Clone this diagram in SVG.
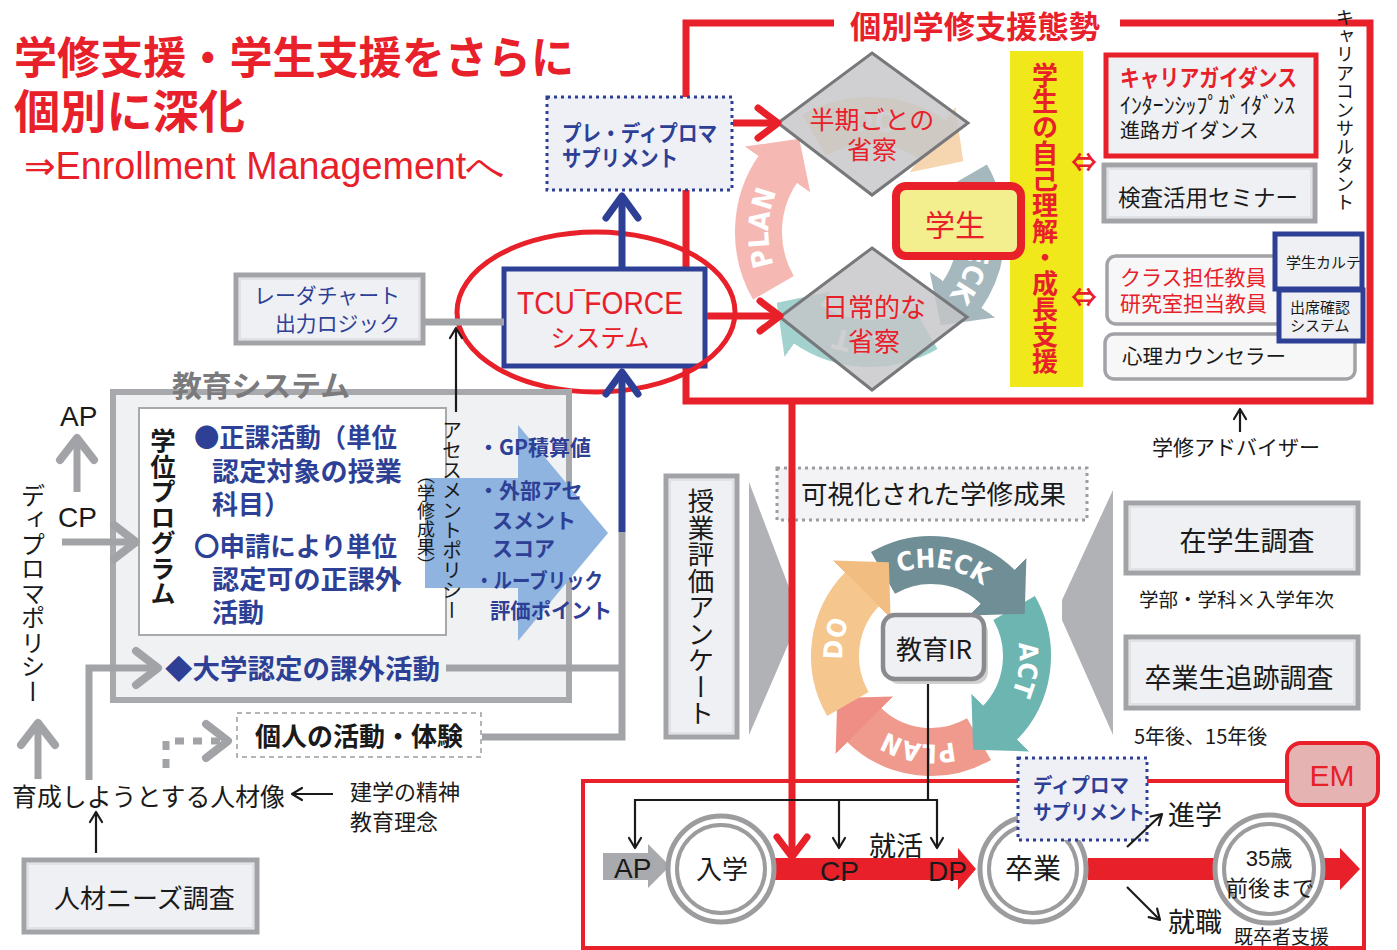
<svg xmlns="http://www.w3.org/2000/svg" width="1397" height="950" viewBox="0 0 1397 950">
<defs>
<style>
text{font-family:"Noto Sans CJK JP","Noto Sans",sans-serif;fill:#1a1a1a}
.lat{font-family:"Liberation Sans","DejaVu Sans",sans-serif}
.b{font-weight:700}
.red{fill:#e8202a}
.blue{fill:#2e3f96}
.gry{fill:#7b7b7e}
.vt{writing-mode:vertical-rl}
.mid{text-anchor:middle}
.panel{fill:#eff0f3;stroke:#a2a3a7;stroke-width:5}
.inset{fill:none;stroke:#dcdde0;stroke-width:1.5}
.round{fill:#f7f7f8;stroke:#a2a3a7;stroke-width:3.5}
.navy{fill:#eff0f3;stroke:#2e3f96;stroke-width:5}
.dotblue{fill:#eef0f5;stroke:#2e3f96;stroke-width:3;stroke-dasharray:3 4}
.gline{fill:none;stroke:#a2a3a7;stroke-width:7}
.kline{fill:none;stroke:#1a1a1a;stroke-width:2.2}
.rline{fill:none;stroke:#e8202a;stroke-width:7}
.bline{fill:none;stroke:#2e3f96;stroke-width:7}
.ring{fill:none}
.cyc{font-family:"DejaVu Sans Condensed","DejaVu Sans",sans-serif;font-weight:700;fill:#fff}
.diam{fill:#c6c6c8;fill-opacity:0.82;stroke:#77787b;stroke-width:3}
.dual{fill:#fff;stroke:#9c9c9f}
</style>
<marker id="mRed" markerUnits="userSpaceOnUse" markerWidth="40" markerHeight="40" viewBox="0 0 40 40" refX="34" refY="20" orient="auto" overflow="visible">
<path d="M14,5 L34,20 L14,35" fill="none" stroke="#e8202a" stroke-width="7" stroke-linecap="round" stroke-linejoin="round"/>
</marker>
<marker id="mBlue" markerUnits="userSpaceOnUse" markerWidth="40" markerHeight="40" viewBox="0 0 40 40" refX="34" refY="20" orient="auto" overflow="visible">
<path d="M12,4 L34,20 L12,36" fill="none" stroke="#2e3f96" stroke-width="7" stroke-linecap="round" stroke-linejoin="round"/>
</marker>
<marker id="mGray" markerUnits="userSpaceOnUse" markerWidth="40" markerHeight="40" viewBox="0 0 40 40" refX="34" refY="20" orient="auto" overflow="visible">
<path d="M12,3 L34,20 L12,37" fill="none" stroke="#a2a3a7" stroke-width="8" stroke-linecap="round" stroke-linejoin="round"/>
</marker>
<marker id="mBlk" markerUnits="userSpaceOnUse" markerWidth="16" markerHeight="16" viewBox="0 0 16 16" refX="14" refY="8" orient="auto" overflow="visible">
<path d="M4,2 L14,8 L4,14" fill="none" stroke="#1a1a1a" stroke-width="2.2" stroke-linecap="round" stroke-linejoin="round"/>
</marker>
<marker id="hSal" markerUnits="strokeWidth" markerWidth="0.8" markerHeight="1.7" viewBox="0 0 10 10" preserveAspectRatio="none" refX="0.5" refY="5" orient="auto"><path d="M0,0 L10,5 L0,10z" fill="#ef8e84"/></marker>
<marker id="hTan" markerUnits="strokeWidth" markerWidth="0.8" markerHeight="1.7" viewBox="0 0 10 10" preserveAspectRatio="none" refX="0.5" refY="5" orient="auto"><path d="M0,0 L10,5 L0,10z" fill="#f2bd80"/></marker>
<marker id="hSla" markerUnits="strokeWidth" markerWidth="0.8" markerHeight="1.7" viewBox="0 0 10 10" preserveAspectRatio="none" refX="0.5" refY="5" orient="auto"><path d="M0,0 L10,5 L0,10z" fill="#6f8e96"/></marker>
<marker id="hTea" markerUnits="strokeWidth" markerWidth="0.8" markerHeight="1.7" viewBox="0 0 10 10" preserveAspectRatio="none" refX="0.5" refY="5" orient="auto"><path d="M0,0 L10,5 L0,10z" fill="#6cb5b1"/></marker>
<path id="pU" d="M798.2,303.8 A101.5,101.5 0 1 1 941.8,160.2 A101.5,101.5 0 1 1 798.2,303.8"/>
<path id="pL" d="M869.5,717.5 A87,87 0 1 1 992.5,594.5 A87,87 0 1 1 869.5,717.5"/>
</defs>

<rect width="1397" height="950" fill="#ffffff"/>

<!-- headline -->
<g id="headline">
<text class="red b" x="14" y="74" font-size="44" textLength="560" lengthAdjust="spacingAndGlyphs">学修支援・学生支援をさらに</text>
<text class="red b" x="14" y="128" font-size="46" textLength="231" lengthAdjust="spacingAndGlyphs">個別に深化</text>
<text class="red lat" x="24" y="179" font-size="38" textLength="481" lengthAdjust="spacingAndGlyphs">⇒Enrollment Managementへ</text>
</g>

<!-- individual study support frame -->
<g id="support-frame">
<path d="M834,23 H686 V401 H1370 V23 H1120" fill="none" stroke="#e8202a" stroke-width="7"/>
<text class="red b" x="850" y="38" font-size="31" textLength="250" lengthAdjust="spacingAndGlyphs">個別学修支援態勢</text>
<text class="vt" x="1345" y="8" font-size="18.5">キャリアコンサルタント</text>
</g>

<!-- PDCA ring inside the frame -->
<g id="cycle-upper" opacity="0.62">
<path class="ring" stroke="#ef8e84" stroke-width="47" marker-end="url(#hSal)" d="M773.4,287.8 A111.5,111.5 0 0 1 778.7,168.0"/>
<path class="ring" stroke="#f2bd80" stroke-width="47" marker-end="url(#hTan)" d="M814.3,135.4 A111.5,111.5 0 0 1 934.0,140.7"/>
<path class="ring" stroke="#6f8e96" stroke-width="47" marker-end="url(#hSla)" d="M966.6,176.3 A111.5,111.5 0 0 1 961.3,296.0"/>
<path class="ring" stroke="#6cb5b1" stroke-width="47" marker-end="url(#hTea)" d="M925.75,328.6 A111.5,111.5 0 0 1 806.0,323.3"/>
<text class="cyc" font-size="28" text-anchor="middle"><textPath href="#pU" startOffset="13.1%">PLAN</textPath></text>
<text class="cyc" font-size="28" text-anchor="middle"><textPath href="#pU" startOffset="38.1%">DO</textPath></text>
<text class="cyc" font-size="28" text-anchor="middle"><textPath href="#pU" startOffset="65.8%">CHECK</textPath></text>
<text class="cyc" font-size="28" text-anchor="middle"><textPath href="#pU" startOffset="88.6%">ACT</textPath></text>
</g>

<g id="reflect-term">
<polygon class="diam" points="872,53 968,123 872,195 778,123"/>
<text class="red mid" x="872" y="129" font-size="25">半期ごとの</text>
<text class="red mid" x="872" y="159" font-size="25">省察</text>
</g>
<g id="reflect-daily">
<polygon class="diam" points="872,248 967,317 872,390 780,317"/>
<text class="red mid" x="874" y="317" font-size="26">日常的な</text>
<text class="red mid" x="874" y="351" font-size="26">省察</text>
</g>
<g id="self-understanding">
<rect x="1010" y="51" width="73" height="336" fill="#f1e81c"/>
<text class="red b vt" x="1045" y="62" font-size="26">学生の自己理解・成長支援</text>
<text class="red b mid" x="1084" y="172" font-size="26">⇔</text>
<text class="red b mid" x="1084" y="307" font-size="26">⇔</text>
</g>
<g id="student">
<rect x="896" y="186" width="125" height="70" rx="10" fill="#f3ee8e" stroke="#e8202a" stroke-width="8"/>
<text class="red mid" x="955" y="236" font-size="30">学生</text>
</g>
<g id="career-guidance">
<rect x="1106" y="55" width="210" height="101" fill="#eff0f3" stroke="#e8202a" stroke-width="5"/>
<text class="red b" x="1120" y="86" font-size="23" textLength="177" lengthAdjust="spacingAndGlyphs">キャリアガイダンス</text>
<text x="1120" y="113" font-size="22" textLength="175" lengthAdjust="spacingAndGlyphs">ｲﾝﾀｰﾝｼｯﾌﾟｶﾞｲﾀﾞﾝｽ</text>
<text x="1120" y="138" font-size="20">進路ガイダンス</text>
</g>
<g id="test-seminar">
<rect class="panel" x="1104" y="165" width="211" height="56"/>
<rect class="inset" x="1108" y="169" width="203" height="48"/>
<text x="1118" y="206" font-size="22.5">検査活用セミナー</text>
</g>
<g id="class-teacher">
<rect class="round" x="1107" y="256" width="180" height="68" rx="9"/>
<text class="red" x="1120" y="285" font-size="21">クラス担任教員</text>
<text class="red" x="1120" y="311" font-size="21">研究室担当教員</text>
</g>
<g id="counselor">
<rect class="round" x="1105" y="334" width="250" height="45" rx="9"/>
<text x="1122" y="364" font-size="20.5">心理カウンセラー</text>
</g>
<g id="student-record">
<rect class="navy" x="1275" y="234" width="87" height="55" stroke-width="4.5"/>
<text x="1286" y="268" font-size="15">学生カルテ</text>
</g>
<g id="attendance">
<rect class="navy" x="1279" y="290" width="84" height="51" stroke-width="4.5"/>
<text x="1290" y="313" font-size="15">出席確認</text>
<text x="1290" y="331" font-size="15">システム</text>
</g>
<g id="advisor">
<text x="1152" y="455" font-size="21">学修アドバイザー</text>
</g>

<!-- TCU-FORCE and its neighbours -->
<g id="pre-diploma">
<rect class="dotblue" x="547" y="97" width="185" height="93"/>
<text class="blue b" x="562" y="141" font-size="22" textLength="155" lengthAdjust="spacingAndGlyphs">プレ・ディプロマ</text>
<text class="blue b" x="562" y="166" font-size="22" textLength="116" lengthAdjust="spacingAndGlyphs">サプリメント</text>
</g>
<g id="radar-logic">
<rect class="panel" x="236" y="275" width="187" height="68"/>
<rect class="inset" x="240" y="279" width="179" height="60"/>
<text class="blue" x="254" y="303" font-size="21" textLength="146" lengthAdjust="spacingAndGlyphs">レーダチャート</text>
<text class="blue" x="275" y="331" font-size="21" textLength="125" lengthAdjust="spacingAndGlyphs">出力ロジック</text>
</g>
<g id="tcu-force">
<rect class="navy" x="504" y="269" width="201" height="97" stroke-width="6"/>
<text class="red lat" x="600" y="314" font-size="31" text-anchor="middle" textLength="166" lengthAdjust="spacingAndGlyphs">TCU‾FORCE</text>
<text class="red mid" x="600" y="347" font-size="25">システム</text>
<ellipse cx="596" cy="312" rx="139" ry="80" fill="none" stroke="#e8202a" stroke-width="5"/>
</g>

<!-- education system -->
<g id="education-system">
<rect x="113" y="392" width="456" height="308" fill="#f0f1f3" stroke="#a8a9ad" stroke-width="6"/>
<text class="gry b" x="172" y="397" font-size="29" textLength="178" lengthAdjust="spacingAndGlyphs">教育システム</text>
<rect x="139" y="408" width="307" height="227" fill="#ffffff" stroke="#a8a9ad" stroke-width="2"/>
<text class="b vt" x="163" y="428" font-size="25.5">学位プログラム</text>
<text class="blue b" x="194" y="447" font-size="26" textLength="203" lengthAdjust="spacingAndGlyphs">●正課活動（単位</text>
<text class="blue b" x="212" y="481" font-size="26" textLength="190" lengthAdjust="spacingAndGlyphs">認定対象の授業</text>
<text class="blue b" x="212" y="514" font-size="26">科目）</text>
<text class="blue b" x="194" y="556" font-size="26" textLength="203" lengthAdjust="spacingAndGlyphs">〇申請により単位</text>
<text class="blue b" x="212" y="589" font-size="26" textLength="190" lengthAdjust="spacingAndGlyphs">認定可の正課外</text>
<text class="blue b" x="212" y="622" font-size="26">活動</text>
<polygon points="425,478 518,478 518,425 608,533 518,641 518,588 425,588" fill="#8fb4df"/>
<text class="vt" x="426" y="466" font-size="18">（学修成果）</text>
<text class="vt" x="452" y="420" font-size="20">アセスメントポリシー</text>
<text class="blue b" x="478" y="455" font-size="21" textLength="113" lengthAdjust="spacingAndGlyphs">・GP積算値</text>
<text class="blue b" x="478" y="498" font-size="21">・外部アセ</text>
<text class="blue b" x="492" y="528" font-size="21">スメント</text>
<text class="blue b" x="492" y="556" font-size="21">スコア</text>
<text class="blue b" x="475" y="588" font-size="21" textLength="128" lengthAdjust="spacingAndGlyphs">・ルーブリック</text>
<text class="blue b" x="490" y="618" font-size="21" textLength="122" lengthAdjust="spacingAndGlyphs">評価ポイント</text>
<text class="blue b" x="165" y="679" font-size="27" textLength="275" lengthAdjust="spacingAndGlyphs">◆大学認定の課外活動</text>
</g>

<g id="policies">
<text class="lat" x="60" y="426" font-size="28">AP</text>
<text class="lat" x="58" y="527" font-size="28">CP</text>
<text class="vt" x="33" y="483" font-size="24.5">ディプロマポリシー</text>
</g>
<g id="personal-activity">
<rect x="237" y="713" width="244" height="44" fill="#ffffff" stroke="#9c9da1" stroke-width="1.5" stroke-dasharray="5 4"/>
<text class="b" x="255" y="746" font-size="26">個人の活動・体験</text>
</g>
<g id="human-resource">
<text x="12" y="806" font-size="25" textLength="273" lengthAdjust="spacingAndGlyphs">育成しようとする人材像</text>
<text x="350" y="800" font-size="22">建学の精神</text>
<text x="350" y="830" font-size="22">教育理念</text>
</g>
<g id="needs-survey">
<rect class="panel" x="24" y="860" width="233" height="72"/>
<rect class="inset" x="28" y="864" width="225" height="64"/>
<text x="54" y="908" font-size="26">人材ニーズ調査</text>
</g>

<!-- assessment and IR -->
<g id="class-evaluation">
<rect class="panel" x="666" y="476" width="71" height="261"/>
<rect class="inset" x="670" y="480" width="63" height="253"/>
<text class="vt" x="701" y="488" font-size="26.5">授業評価アンケート</text>
</g>
<g id="funnels">
<polygon points="749,482 790,590 790,640 749,735" fill="#b1b2b6"/>
<polygon points="1113,490 1062,600 1062,620 1113,735" fill="#b1b2b6"/>
</g>
<g id="visible-outcome">
<rect x="777" y="468" width="310" height="52" fill="#f3f3f5" stroke="#9c9da1" stroke-width="3" stroke-dasharray="3 4"/>
<text x="801" y="504" font-size="26.5">可視化された学修成果</text>
</g>
<g id="cycle-lower">
<path class="ring" stroke="#f09a8e" stroke-width="48" marker-end="url(#hSal)" d="M979,739.1 A96,96 0 0 1 863.1,723.9"/>
<path class="ring" stroke="#6cb5b1" stroke-width="48" marker-end="url(#hTea)" d="M1014.1,608 A96,96 0 0 1 998.9,723.9"/>
<path class="ring" stroke="#6f8e96" stroke-width="48" marker-end="url(#hSla)" d="M883,572.9 A96,96 0 0 1 998.9,588.1"/>
<path class="ring" stroke="#f5c78e" stroke-width="48" marker-end="url(#hTan)" d="M847.9,704 A96,96 0 0 1 863.1,588.1"/>
<text class="cyc" font-size="26" text-anchor="middle"><textPath href="#pL" startOffset="15.3%">DO</textPath></text>
<text class="cyc" font-size="26" text-anchor="middle"><textPath href="#pL" startOffset="39.7%">CHECK</textPath></text>
<text class="cyc" font-size="26" text-anchor="middle"><textPath href="#pL" startOffset="64.7%">ACT</textPath></text>
<text class="cyc" font-size="26" text-anchor="middle"><textPath href="#pL" startOffset="89.7%">PLAN</textPath></text>
</g>
<g id="education-ir">
<rect x="887" y="620" width="101" height="64" rx="12" fill="#000" opacity="0.18"/>
<rect x="883" y="615" width="101" height="64" rx="12" fill="#eff0f3" stroke="#8a8b8e" stroke-width="4.5"/>
<text x="934" y="659" font-size="26" text-anchor="middle">教育IR</text>
</g>
<g id="student-survey">
<rect class="panel" x="1126" y="503" width="232" height="70"/>
<rect class="inset" x="1130" y="507" width="224" height="62"/>
<text x="1247" y="551" font-size="27" text-anchor="middle">在学生調査</text>
<text x="1139" y="607" font-size="19.5">学部・学科×入学年次</text>
</g>
<g id="alumni-survey">
<rect class="panel" x="1126" y="637" width="232" height="71"/>
<rect class="inset" x="1130" y="641" width="224" height="63"/>
<text x="1239" y="688" font-size="27" text-anchor="middle">卒業生追跡調査</text>
<text x="1134" y="744" font-size="20">5年後、15年後</text>
</g>

<!-- enrollment management timeline -->
<g id="em-frame">
<rect x="583" y="781" width="781" height="167" fill="none" stroke="#e8202a" stroke-width="4"/>
<rect x="1287" y="743" width="91" height="62" rx="14" fill="#e6b3b3" stroke="#e8202a" stroke-width="4"/>
<text class="red lat" x="1332" y="786" font-size="30" text-anchor="middle">EM</text>
</g>
<g id="timeline">
<polygon points="603,853 648,853 648,844 670,866 648,888 648,880 603,880" fill="#a9aaad"/>
<text class="lat" x="614" y="878" font-size="28">AP</text>
<polygon points="773,858 958,858 958,848 976,869 958,890 958,880 773,880" fill="#e8202a"/>
<polygon points="1088,858 1340,858 1340,848 1360,869 1340,890 1340,880 1088,880" fill="#e8202a"/>
<text class="lat" x="820" y="881" font-size="28">CP</text>
<text class="lat" x="928" y="881" font-size="28">DP</text>
<text x="869" y="856" font-size="27">就活</text>
</g>
<g id="enroll">
<circle class="dual" cx="721" cy="869" r="53" stroke-width="5"/>
<circle class="dual" cx="721" cy="869" r="44" stroke-width="4"/>
<text x="722" y="879" font-size="26" text-anchor="middle">入学</text>
</g>
<g id="graduate">
<circle class="dual" cx="1033" cy="869" r="53" stroke-width="5"/>
<circle class="dual" cx="1033" cy="869" r="44" stroke-width="4"/>
<text x="1033" y="879" font-size="28" text-anchor="middle">卒業</text>
</g>
<g id="age35">
<circle class="dual" cx="1269" cy="869" r="54" stroke-width="5"/>
<circle class="dual" cx="1269" cy="869" r="45" stroke-width="4"/>
<text class="lat" x="1269" y="866" font-size="22" text-anchor="middle"><tspan>35</tspan><tspan font-family="Noto Sans CJK JP">歳</tspan></text>
<text x="1270" y="896" font-size="22" text-anchor="middle">前後まで</text>
</g>
<g id="diploma-supplement">
<rect class="dotblue" x="1018" y="758" width="129" height="82"/>
<text class="blue b" x="1033" y="793" font-size="20" textLength="96" lengthAdjust="spacingAndGlyphs">ディプロマ</text>
<text class="blue b" x="1033" y="820" font-size="20" textLength="112" lengthAdjust="spacingAndGlyphs">サプリメント</text>
</g>
<g id="career-paths">
<text x="1168" y="825" font-size="27">進学</text>
<text x="1168" y="932" font-size="27">就職</text>
<text x="1234" y="944" font-size="19">既卒者支援</text>
</g>

<!-- connectors -->
<g id="connectors">
<line class="rline" x1="733" y1="123" x2="778" y2="123" marker-end="url(#mRed)"/>
<line class="rline" x1="707" y1="316" x2="780" y2="316" marker-end="url(#mRed)"/>
<line class="bline" x1="622" y1="268" x2="622" y2="196" marker-end="url(#mBlue)"/>
<line class="bline" x1="622" y1="532" x2="622" y2="372" marker-end="url(#mBlue)"/>
<path class="gline" d="M446,668 H622 M482,737 H622 V532"/>
<line class="gline" x1="424" y1="322" x2="504" y2="322"/>
<line class="kline" x1="456" y1="412" x2="456" y2="328" marker-end="url(#mBlk)"/>
<line class="kline" x1="1240" y1="432" x2="1240" y2="409" marker-end="url(#mBlk)"/>
<line class="gline" x1="62" y1="542" x2="136" y2="542" marker-end="url(#mGray)"/>
<line class="gline" x1="77" y1="492" x2="77" y2="438" stroke-width="5" marker-end="url(#mGray)"/>
<line class="gline" x1="38" y1="779" x2="38" y2="723" stroke-width="5" marker-end="url(#mGray)"/>
<path class="gline" d="M89,780 V668 H158" marker-end="url(#mGray)"/>
<path class="gline" d="M166,768 V741 H228" stroke-width="9" stroke-dasharray="9 9" marker-end="url(#mGray)"/>
<line class="kline" x1="333" y1="794" x2="292" y2="794" marker-end="url(#mBlk)"/>
<line class="kline" x1="96" y1="853" x2="96" y2="812" marker-end="url(#mBlk)"/>
<line class="rline" x1="792" y1="401" x2="792" y2="857" marker-end="url(#mRed)"/>
<path class="kline" d="M928,684 V800 M635,800 H937"/>
<line class="kline" x1="635" y1="799" x2="635" y2="848" marker-end="url(#mBlk)"/>
<line class="kline" x1="839" y1="799" x2="839" y2="848" marker-end="url(#mBlk)"/>
<line class="kline" x1="937" y1="799" x2="937" y2="848" marker-end="url(#mBlk)"/>
<line class="kline" x1="1127" y1="847" x2="1162" y2="814" marker-end="url(#mBlk)"/>
<line class="kline" x1="1127" y1="887" x2="1160" y2="920" marker-end="url(#mBlk)"/>
</g>
</svg>
